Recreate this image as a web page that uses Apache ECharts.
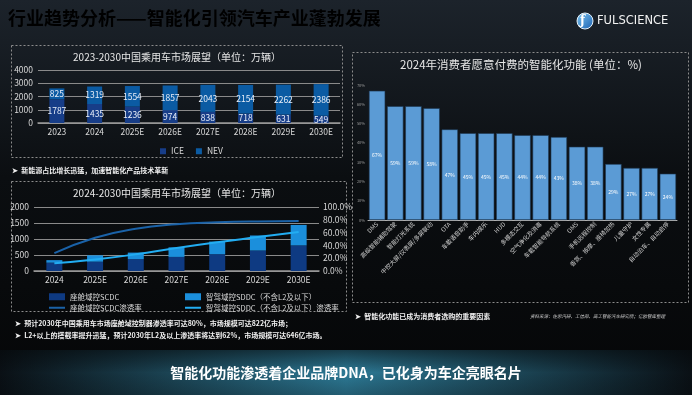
<!DOCTYPE html>
<html><head><meta charset="utf-8">
<script src="https://cdn.jsdelivr.net/npm/echarts@6/dist/echarts.min.js"></script>
<style>html,body{margin:0;padding:0;background:#07090b}#c{width:692px;height:395px}</style>
</head><body><div id="c"></div>
<script>
// ---- data ----
const years1 = ['2023','2024','2025E','2026E','2027E','2028E','2029E','2030E'];
const iceValues = [1787,1435,1236,974,838,718,631,549];
const nevValues = [825,1319,1554,1857,2043,2154,2262,2386];

const years2 = ['2024','2025E','2026E','2027E','2028E','2029E','2030E'];
const scdcValues = [260,290,370,440,525,640,800];
const sddcValues = [80,200,205,300,395,470,640];
const scdcRate = [28,52,66,73,76,77.5,78];
const sddcRate = [12,18,26,36,45,53,61];

const features = ['DMS','高级智能辅助驾驶','智能灯光系统','中控大屏/仪表屏/多屏联动','OTA','车载语音助手','车内娱乐','HUD','多模态交互','空气净化及消毒','车载智能导航系统','OMS','手机远程控制','香氛、按摩、座椅加热','儿童守护','女性专属','自动泊车、自动启停'];
const featureValues = [67,59,59,58,47,45,45,45,44,44,43,38,38,29,27,27,24];

const ticks1 = [0,1000,2000,3000,4000];

const chart = echarts.init(document.getElementById('c'), null, {renderer:'canvas'});
const F = 'Noto Sans CJK SC';
const axisTxt = {color:'#d8d8d8', fontSize:8.5, fontFamily:F};
const plain = v => String(v);

chart.setOption({
  animation:false,
  backgroundColor:{type:'linear',x:0,y:0,x2:0,y2:1,colorStops:[{offset:0,color:'#1c232b'},{offset:0.45,color:'#0b0e11'},{offset:1,color:'#050607'}]},
  textStyle:{fontFamily:F},
  graphic:[
    {type:'text',left:8,top:9,style:{text:'行业趋势分析——智能化引领汽车产业蓬勃发展',fontSize:18,fontWeight:'bold',fontFamily:F,
      fill:{type:'linear',x:0,y:0,x2:1,y2:0,colorStops:[{offset:0,color:'#2fb4ea'},{offset:1,color:'#5fd2f4'}]}}},
    {type:'circle',shape:{cx:585,cy:21,r:8},style:{fill:{type:'linear',x:0,y:0,x2:1,y2:1,colorStops:[{offset:0,color:'#7fc8f2'},{offset:1,color:'#1a5fb0'}]},stroke:'#e8f2fa',lineWidth:1}},
    {type:'text',x:580,y:15,style:{text:'ƒ',fontSize:12,fontWeight:'bold',fill:'#ffffff',fontFamily:'DejaVu Serif'}},
    {type:'text',x:597,y:21,style:{text:'FULSCIENCE',fontSize:11.5,fill:'#f2f2f2',fontFamily:'DejaVu Sans',verticalAlign:'middle'}},
    // panels
    {type:'rect',shape:{x:11.5,y:45.5,width:331,height:112},style:{fill:'none',stroke:'#8c8c8c',lineWidth:1,lineDash:[2,2]}},
    {type:'rect',shape:{x:11.5,y:181.5,width:335,height:130},style:{fill:'none',stroke:'#8c8c8c',lineWidth:1,lineDash:[2,2]}},
    {type:'rect',shape:{x:352.5,y:52.5,width:336,height:250},style:{fill:'none',stroke:'#8c8c8c',lineWidth:1,lineDash:[2,2]}},
    // panel titles
    {type:'text',x:177,y:57,style:{text:'2023-2030中国乘用车市场展望（单位：万辆）',fontSize:10,fill:'#e6e6e6',align:'center',verticalAlign:'middle',fontFamily:F}},
    {type:'text',x:177,y:193,style:{text:'2024-2030中国乘用车市场展望（单位：万辆）',fontSize:10,fill:'#e6e6e6',align:'center',verticalAlign:'middle',fontFamily:F}},
    {type:'text',x:521,y:65,style:{text:'2024年消费者愿意付费的智能化功能 (单位：%)',fontSize:11.5,fill:'#e6e6e6',align:'center',verticalAlign:'middle',fontFamily:F}},
    // bullets
    {type:'text',x:12,y:170,style:{text:'➤  新能源占比增长迅猛，加速智能化产品技术革新',fontSize:7,fontWeight:'bold',fill:'#f0f0f0',verticalAlign:'middle',fontFamily:F}},
    {type:'text',x:15,y:323,style:{text:'➤  预计2030年中国乘用车市场座舱域控制器渗透率可达80%，市场规模可达822亿市场；',fontSize:7,fontWeight:'bold',fill:'#f0f0f0',verticalAlign:'middle',fontFamily:F}},
    {type:'text',x:15,y:335,style:{text:'➤  L2+以上的搭载率提升迅猛，预计2030年L2及以上渗透率将达到62%，市场规模可达646亿市场。',fontSize:7,fontWeight:'bold',fill:'#f0f0f0',verticalAlign:'middle',fontFamily:F}},
    {type:'text',x:355,y:316,style:{text:'➤  智能化功能已成为消费者选购的重要因素',fontSize:7,fontWeight:'bold',fill:'#f0f0f0',verticalAlign:'middle',fontFamily:F}},
    {type:'text',x:530,y:316,style:{text:'资料来源：佐思汽研、工信部、高工智能汽车研究院；亿欧智库整理',fontSize:4.5,fontStyle:'italic',fill:'#d0d0d0',verticalAlign:'middle',fontFamily:F}},
    // banner
    {type:'rect',shape:{x:0,y:350,width:692,height:45},style:{fill:{type:'linear',x:0,y:0,x2:1,y2:0,colorStops:[{offset:0,color:'#0a1015'},{offset:0.5,color:'#2d7a96'},{offset:1,color:'#0a1015'}]}}},
    {type:'rect',shape:{x:0,y:350,width:692,height:45},style:{fill:{type:'linear',x:0,y:0,x2:0,y2:1,colorStops:[{offset:0,color:'rgba(5,8,10,0.55)'},{offset:0.5,color:'rgba(5,8,10,0)'},{offset:1,color:'rgba(5,8,10,0.25)'}]}}},
    {type:'text',x:346,y:373,style:{text:'智能化功能渗透着企业品牌DNA，已化身为车企亮眼名片',fontSize:14,fontWeight:'bold',fill:'#ffffff',align:'center',verticalAlign:'middle',fontFamily:F}}
  ],
  legend:[
    {data:['ICE','NEV'],left:155,top:142,itemWidth:6,itemHeight:6,itemGap:12,icon:'rect',textStyle:{color:'#d8d8d8',fontSize:8.5}},
    {data:['座舱域控SCDC'],left:44,top:288,itemWidth:16,itemHeight:7,icon:'rect',textStyle:{color:'#d8d8d8',fontSize:7.5}},
    {data:['智驾域控SDDC（不含L2及以下）'],left:180,top:288,itemWidth:16,itemHeight:7,icon:'rect',textStyle:{color:'#d8d8d8',fontSize:7.5}},
    {data:['座舱域控SCDC渗透率'],left:44,top:299,itemWidth:16,itemHeight:2,icon:'rect',textStyle:{color:'#d8d8d8',fontSize:7.5}},
    {data:['智驾域控SDDC（不含L2及以下）渗透率'],left:180,top:299,itemWidth:16,itemHeight:2,icon:'rect',textStyle:{color:'#d8d8d8',fontSize:7.5}}
  ],
  grid:[
    {left:38,top:70,width:302,height:53},
    {left:34,top:207,width:285,height:64},
    {left:368,top:85,width:309,height:135}
  ],
  xAxis:[
    {type:'category',gridIndex:0,data:years1,axisTick:{show:false},axisLine:{lineStyle:{color:'#9a9a9a',width:1.5}},axisLabel:{...axisTxt,margin:5}},
    {type:'category',gridIndex:1,data:years2,axisTick:{show:false},axisLine:{lineStyle:{color:'#9a9a9a',width:1.5}},axisLabel:{...axisTxt,margin:5}},
    {type:'category',gridIndex:2,data:features,axisTick:{show:false},axisLine:{lineStyle:{color:'#b0b0b0'}},axisLabel:{color:'#d0d0d0',fontSize:6,rotate:45,interval:0,margin:3,fontFamily:F}}
  ],
  yAxis:[
    {type:'value',gridIndex:0,min:ticks1[0],max:ticks1[ticks1.length-1],interval:1000,axisLabel:{...axisTxt,margin:5,formatter:plain},splitLine:{lineStyle:{color:'#8a8a8a'}}},
    {type:'value',gridIndex:1,min:0,max:2000,interval:500,axisLabel:{...axisTxt,margin:5,formatter:plain},splitLine:{lineStyle:{color:'#8a8a8a'}}},
    {type:'value',gridIndex:1,position:'right',min:0,max:100,interval:20,axisLabel:{...axisTxt,margin:4,formatter:v=>v.toFixed(1)+'%'},splitLine:{show:false}},
    {type:'value',gridIndex:2,min:0,max:70,interval:10,axisLabel:{color:'#9a9a9a',fontSize:4,margin:3,formatter:'{value}%'},splitLine:{show:false}}
  ],
  series:[
    {name:'ICE',type:'bar',stack:'a',xAxisIndex:0,yAxisIndex:0,data:iceValues,barWidth:15,itemStyle:{color:'#173d88'},
      label:{show:true,position:'inside',color:'#e8eef8',fontSize:8.5}},
    {name:'NEV',type:'bar',stack:'a',xAxisIndex:0,yAxisIndex:0,data:nevValues,barWidth:15,itemStyle:{color:'#0b5ba3'},
      label:{show:true,position:'inside',color:'#e8eef8',fontSize:8.5}},
    {name:'座舱域控SCDC',type:'bar',stack:'b',xAxisIndex:1,yAxisIndex:1,data:scdcValues,barWidth:16,itemStyle:{color:'#0e3a82'}},
    {name:'智驾域控SDDC（不含L2及以下）',type:'bar',stack:'b',xAxisIndex:1,yAxisIndex:1,data:sddcValues,barWidth:16,itemStyle:{color:'#1b8fdc'}},
    {name:'座舱域控SCDC渗透率',type:'line',xAxisIndex:1,yAxisIndex:2,data:scdcRate,smooth:true,symbol:'none',lineStyle:{color:'#1a62a8',width:2},itemStyle:{color:'#1a62a8'},z:5},
    {name:'智驾域控SDDC（不含L2及以下）渗透率',type:'line',xAxisIndex:1,yAxisIndex:2,data:sddcRate,smooth:true,symbol:'none',lineStyle:{color:'#22adf2',width:2},itemStyle:{color:'#22adf2'},z:5},
    {name:'功能',type:'bar',xAxisIndex:2,yAxisIndex:3,data:featureValues,barCategoryGap:'10%',itemStyle:{color:'#5b9bd5',borderColor:'#1d3550',borderWidth:0.6},
      label:{show:true,position:'inside',formatter:'{c}%',color:'#ffffff',fontSize:5}}
  ]
});
</script></body></html>
